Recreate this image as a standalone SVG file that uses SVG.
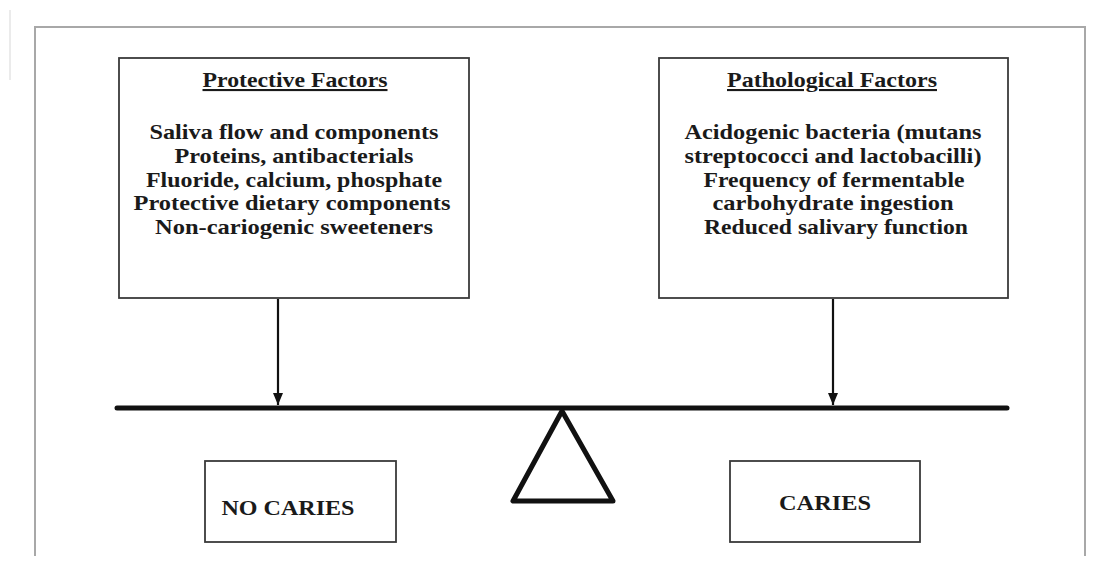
<svg xmlns="http://www.w3.org/2000/svg" width="1104" height="564" viewBox="0 0 1104 564">
<defs>
<style>
.frame{fill:none;stroke:#a8a8a8;stroke-width:2}
.box{fill:#fff;stroke:#3a3a3a;stroke-width:1.8}
.t{font-family:"Liberation Serif","Times New Roman",serif;font-weight:bold;font-size:21px;fill:#1a1a1a;text-anchor:middle}
.ttl{text-decoration:underline}
.conn{stroke:#111;stroke-width:2.2;fill:none}
.beam{stroke:#111;stroke-width:5;stroke-linecap:round;fill:none}
.fulcrum{stroke:#111;stroke-width:5;stroke-linejoin:round;fill:#fff}
</style>
<marker id="ah" viewBox="0 0 12 10" refX="12" refY="5" markerWidth="12" markerHeight="10" markerUnits="userSpaceOnUse" orient="auto">
<path d="M0,0 L12,5 L0,10 Z" fill="#111"/>
</marker>
</defs>
<rect width="1104" height="564" fill="#fff"/>
<g id="frame">
<path class="frame" d="M35,556 L35,27 L1085,27 L1085,556"/>
<line x1="10" y1="10" x2="10" y2="80" stroke="#e4e4e4" stroke-width="1.5"/>
</g>
<g id="protective">
<rect class="box" x="119" y="58" width="350" height="240"/>
<text class="t ttl" x="295" y="87" textLength="185" lengthAdjust="spacingAndGlyphs">Protective Factors</text>
<text class="t" x="294" y="139" textLength="289" lengthAdjust="spacingAndGlyphs">Saliva flow and components</text>
<text class="t" x="294" y="163" textLength="239" lengthAdjust="spacingAndGlyphs">Proteins, antibacterials</text>
<text class="t" x="294" y="186.5" textLength="296" lengthAdjust="spacingAndGlyphs">Fluoride, calcium, phosphate</text>
<text class="t" x="292" y="210" textLength="317" lengthAdjust="spacingAndGlyphs">Protective dietary components</text>
<text class="t" x="294" y="233.5" textLength="278" lengthAdjust="spacingAndGlyphs">Non-cariogenic sweeteners</text>
</g>
<g id="pathological">
<rect class="box" x="659" y="58" width="349" height="240"/>
<text class="t ttl" x="832" y="87" textLength="210" lengthAdjust="spacingAndGlyphs">Pathological Factors</text>
<text class="t" x="833" y="139" textLength="297" lengthAdjust="spacingAndGlyphs">Acidogenic bacteria (mutans</text>
<text class="t" x="833" y="163" textLength="297" lengthAdjust="spacingAndGlyphs">streptococci and lactobacilli)</text>
<text class="t" x="834" y="186.5" textLength="261" lengthAdjust="spacingAndGlyphs">Frequency of fermentable</text>
<text class="t" x="833" y="210" textLength="241" lengthAdjust="spacingAndGlyphs">carbohydrate ingestion</text>
<text class="t" x="836" y="233.5" textLength="264" lengthAdjust="spacingAndGlyphs">Reduced salivary function</text>
</g>
<g id="balance">
<polygon class="fulcrum" points="562,411 513,501 613,501"/>
<line class="beam" x1="117" y1="408" x2="1007" y2="408"/>
</g>
<g id="no-caries">
<rect class="box" x="205" y="461" width="191" height="81"/>
<text class="t" x="288" y="515" textLength="133" lengthAdjust="spacingAndGlyphs">NO CARIES</text>
</g>
<g id="caries">
<rect class="box" x="730" y="461" width="190" height="81"/>
<text class="t" x="825" y="510" textLength="92" lengthAdjust="spacingAndGlyphs">CARIES</text>
</g>
<g id="connectors">
<line class="conn" x1="278" y1="299" x2="278" y2="405" marker-end="url(#ah)"/>
<line class="conn" x1="833" y1="299" x2="833" y2="405" marker-end="url(#ah)"/>
</g>
</svg>
